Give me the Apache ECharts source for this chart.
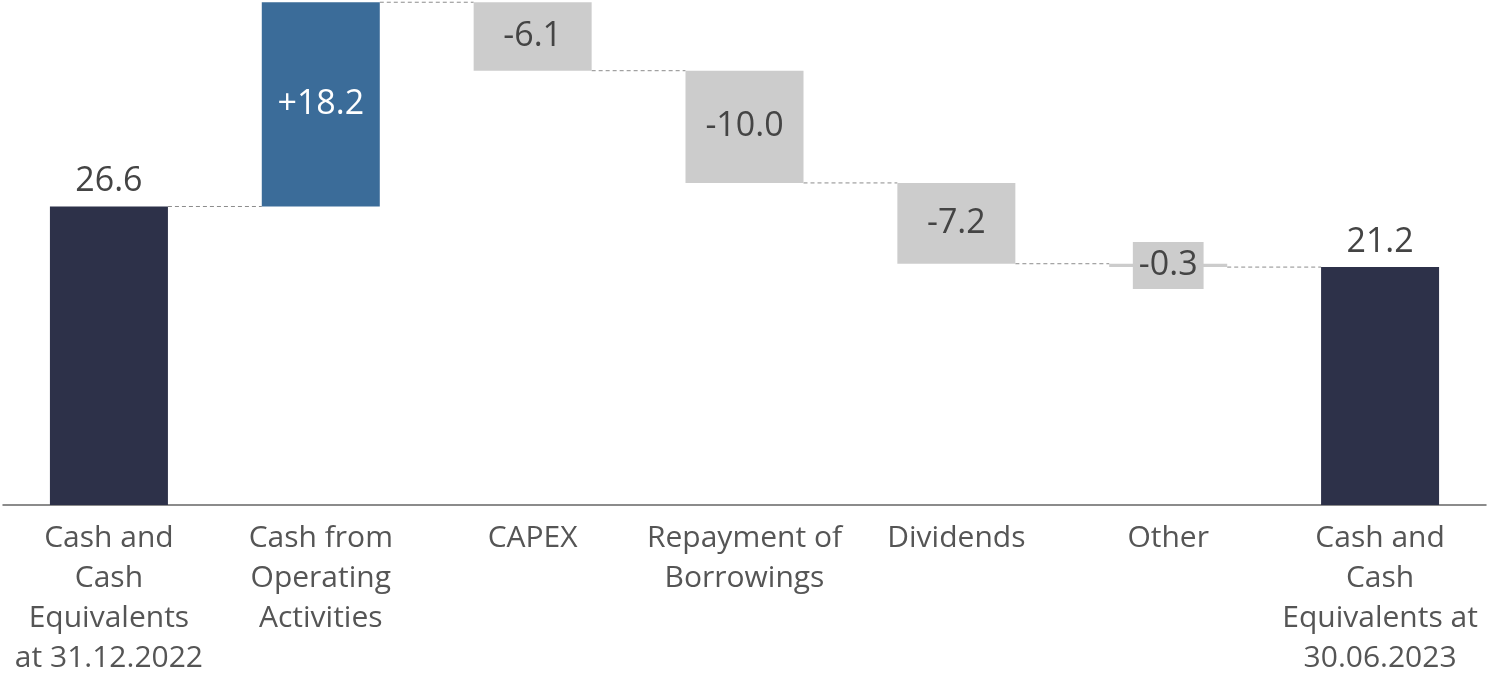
<!DOCTYPE html>
<html><head><meta charset="utf-8">
<script src="https://cdn.jsdelivr.net/npm/echarts@6/dist/echarts.min.js"></script>
<style>html,body{margin:0;padding:0;background:#fff}#c{width:1489px;height:678px}</style>
</head><body><div id="c"></div>
<script>
const categories = [
  'Cash and\nCash\nEquivalents\nat 31.12.2022',
  'Cash from\nOperating\nActivities',
  'CAPEX',
  'Repayment of\nBorrowings',
  'Dividends',
  'Other',
  'Cash and\nCash\nEquivalents at\n30.06.2023'
];
const startValue = 26.6;
const changes = [18.2, -6.1, -10.0, -7.2, -0.3];
const endValue = 21.2;

// build waterfall pieces
const bases = [0], heights = [startValue], levels = [startValue];
let run = startValue;
changes.forEach(c => {
  const next = +(run + c).toFixed(2);
  bases.push(Math.min(run, next));
  heights.push(Math.abs(c));
  run = next;
  levels.push(run);
});
bases.push(0); heights.push(endValue); levels.push(endValue);

const navy = '#2d3149', blue = '#3b6c99', grey = '#cccccc', txt = '#444444';
const FONT = 'Open Sans';
const VS = 34;
const fmt = (v) => v.toFixed(1);

const visData = heights.map((h, i) => {
  let color, label;
  if (i === 0 || i === heights.length - 1) {
    color = navy;
    label = { show: true, position: 'top', distance: 8, color: txt, fontSize: VS, formatter: fmt(i === 0 ? startValue : endValue) };
  } else {
    const c = changes[i - 1];
    const s = (c > 0 ? '+' : '') + fmt(c);
    if (c > 0) {
      color = blue;
      label = { show: true, position: 'inside', color: '#ffffff', fontSize: VS, formatter: s };
    } else if (Math.abs(c) < 1) {
      color = grey;
      label = { show: true, position: 'inside', color: txt, fontSize: VS, formatter: s, backgroundColor: grey, padding: [7, 6, 6, 6] };
    } else {
      color = grey;
      label = { show: true, position: 'inside', color: txt, fontSize: VS, formatter: s };
    }
  }
  return { value: h, itemStyle: { color }, label };
});

// connectors between consecutive bars
const connData = [];
for (let i = 0; i < levels.length - 1; i++) connData.push([i, levels[i]]);

const chart = echarts.init(document.getElementById('c'), null, { renderer: 'canvas' });
chart.setOption({
  animation: false,
  textStyle: { fontFamily: FONT },
  grid: { left: 3, right: 3, top: 0, bottom: 167, containLabel: false },
  xAxis: {
    type: 'category', data: categories,
    axisTick: { show: false },
    axisLine: { lineStyle: { color: '#666', width: 1.5 } },
    axisLabel: { interval: 0, color: '#555', fontSize: 30, lineHeight: 40, margin: 13, fontFamily: FONT }
  },
  yAxis: { type: 'value', min: 0, max: 45, show: false, splitLine: { show: false } },
  series: [
    { type: 'bar', stack: 'w', data: bases, itemStyle: { color: 'transparent' }, barWidth: '55.7%', silent: true },
    { type: 'bar', stack: 'w', data: visData, barWidth: '55.7%', labelLayout: { hideOverlap: false },
      label: { fontFamily: FONT } },
    { type: 'custom', data: connData, z: 1,
      renderItem: function (params, api) {
        const i = api.value(0), lv = api.value(1);
        const bw = api.size([1, 0])[0] * 0.557;
        const p1 = api.coord([i, lv]), p2 = api.coord([i + 1, lv]);
        return { type: 'line', shape: { x1: p1[0] + bw / 2, y1: p1[1], x2: p2[0] - bw / 2, y2: p2[1] },
          style: { stroke: '#8c8c8c', lineWidth: 1, lineDash: [4, 3] } };
      } }
  ]
});
</script></body></html>
